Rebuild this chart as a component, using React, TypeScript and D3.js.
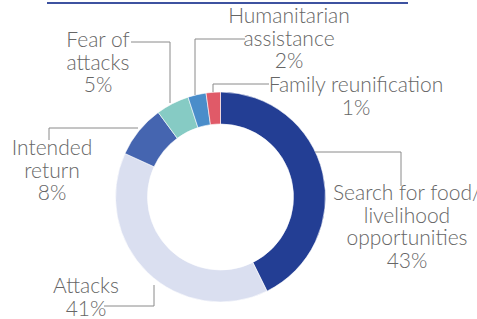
import React, { useRef, useEffect } from 'react';
import * as d3 from 'd3';

// Arc shares as drawn in the picture (small slices are drawn a bit wider than their rounded labels)
const categories = [
  'Search for food/ livelihood opportunities',
  'Attacks',
  'Intended return',
  'Fear of attacks',
  'Humanitarian assistance',
  'Family reunification',
];
const shares = [42.7, 39.1, 8.1, 5.1, 2.8, 2.2];
const percentLabels = ['43%', '41%', '8%', '5%', '2%', '1%'];
const colors = ['#233e94', '#dadff0', '#4565b0', '#86cbc4', '#4a8dca', '#e05a68'];

// label text lines (without the percent) per category
const labelLines = [
  ['Search for food/', 'livelihood', 'opportunities'],
  ['Attacks'],
  ['Intended', 'return'],
  ['Fear of', 'attacks'],
  ['Humanitarian', 'assistance'],
  ['Family reunification'],
];

// layout: label centre x, first baseline y, leader polyline
const labelLayout = [
  { x: 407, y: 200, leader: [[315, 152], [401, 152], [401, 186]] },
  { x: 86, y: 293, leader: [[154, 285], [154, 306], [104, 306]] },
  { x: 52, y: 155, leader: [[138, 128], [49, 128], [49, 140]] },
  { x: 98, y: 47, leader: [[131, 42], [170, 42], [170, 103]] },
  { x: 289, y: 23, leader: [[195, 95], [195, 39], [245, 39]] },
  { x: 356, y: 92, leader: [[213, 92], [213, 84], [269, 84]] },
];

const W = 477;
const H = 319;
const CX = 220.5;
const CY = 197;
const R_OUT = 105;
const R_IN = 73;
const LINE_H = 22.5;

const App = () => {
  const svgRef = useRef<SVGSVGElement>(null);

  useEffect(() => {
    const svg = d3.select(svgRef.current);
    svg.selectAll('*').remove();

    const data = categories.map((c, i) => ({ category: c, value: shares[i], i }));

    // header rule from the page above
    svg.append('line')
      .attr('x1', 47).attr('x2', 408)
      .attr('y1', 3).attr('y2', 3)
      .attr('stroke', '#3d52a0')
      .attr('stroke-width', 2);

    const pie = d3.pie<any>().value(d => d.value).sort(null);
    const arc = d3.arc<any>().innerRadius(R_IN).outerRadius(R_OUT);

    const chart = svg.append('g').attr('transform', `translate(${CX}, ${CY})`);

    chart.selectAll('path')
      .data(pie(data))
      .enter()
      .append('path')
      .attr('d', arc)
      .attr('fill', d => colors[d.data.i])
      .attr('stroke', '#fff')
      .attr('stroke-width', 0.6);

    // leader lines
    const line = d3.line();
    svg.selectAll('.leader')
      .data(labelLayout)
      .enter()
      .append('path')
      .attr('class', 'leader')
      .attr('d', d => line(d.leader as [number, number][]))
      .attr('fill', 'none')
      .attr('stroke', '#8a8a8a')
      .attr('stroke-width', 1);

    // labels
    labelLayout.forEach((pos, i) => {
      const lines = [...labelLines[i], percentLabels[i]];
      const t = svg.append('text')
        .attr('text-anchor', 'middle')
        .style('font-family', 'Lato, sans-serif')
        .style('font-size', '21px')
        .style('font-weight', '300')
        .style('fill', '#666');
      lines.forEach((s, j) => {
        t.append('tspan')
          .attr('x', pos.x)
          .attr('y', pos.y + j * LINE_H)
          .text(s);
      });
    });
  }, []);

  return (
    <svg
      ref={svgRef}
      width={W}
      height={H}
      style={{ position: 'absolute', left: 0, top: 0, background: '#fff' }}
    />
  );
};

export default App;
